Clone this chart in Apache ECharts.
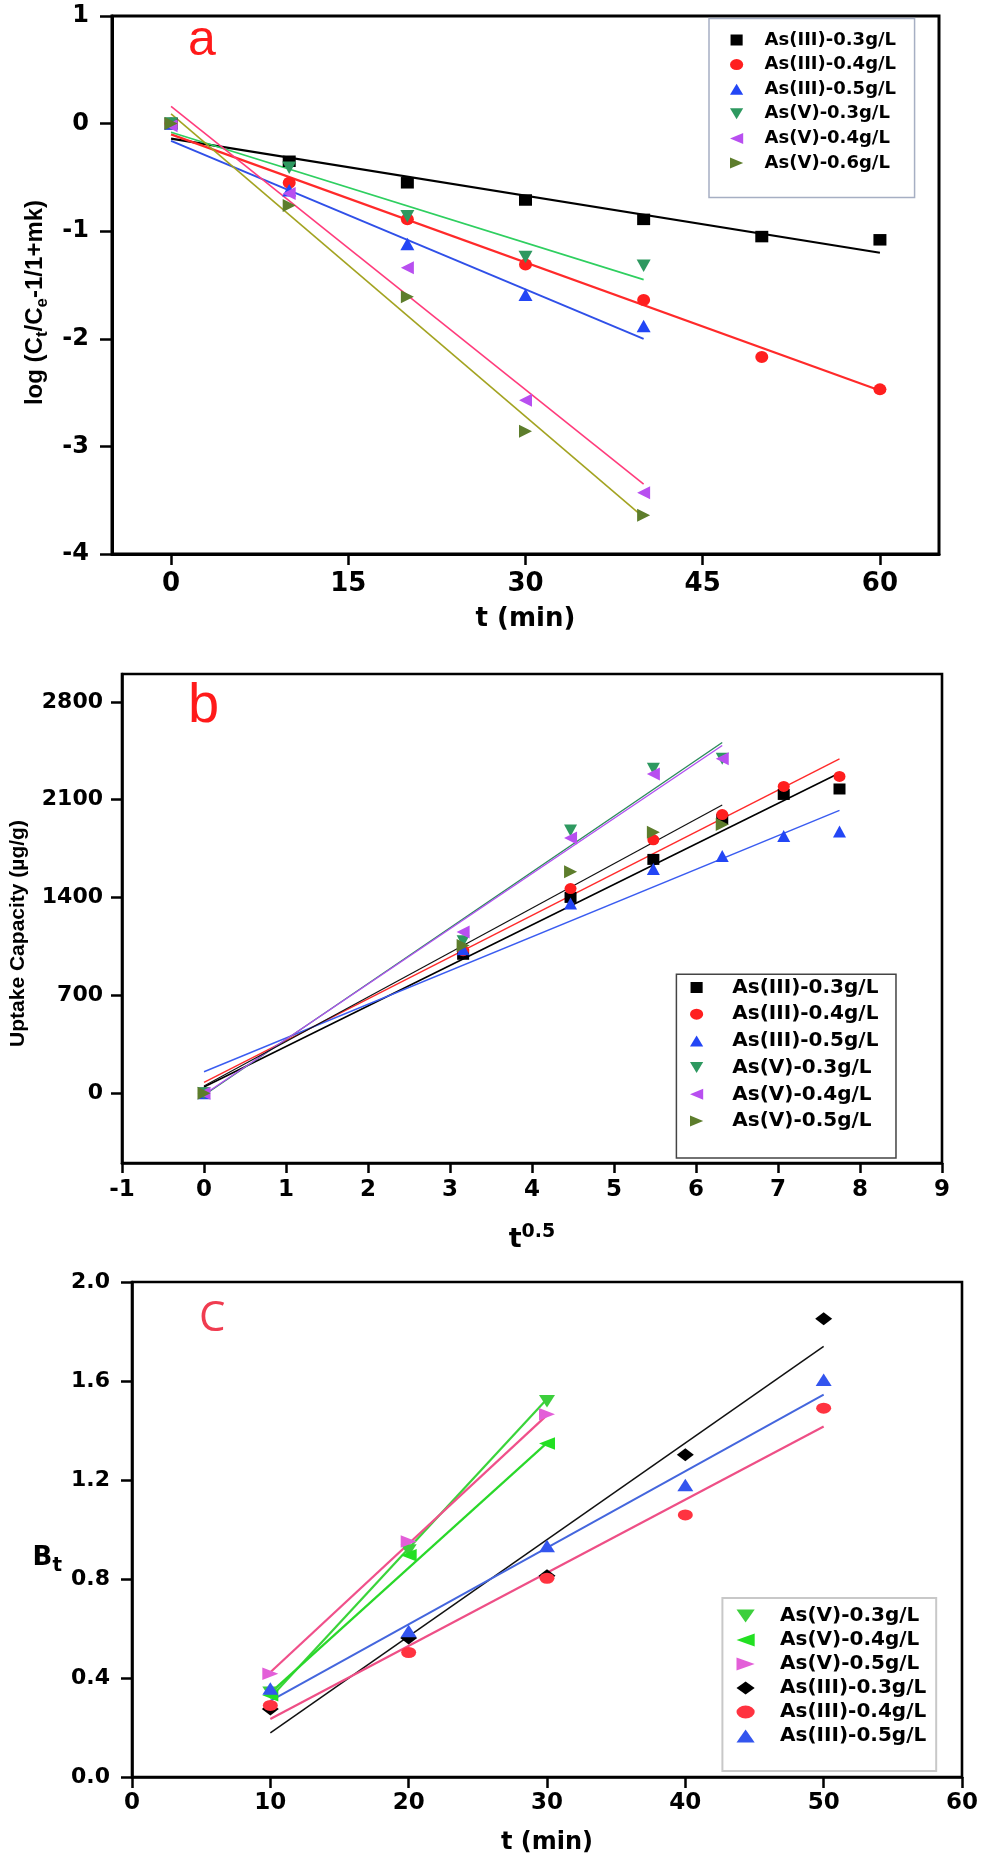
<!DOCTYPE html>
<html>
<head>
<meta charset="utf-8">
<script src="https://cdn.jsdelivr.net/npm/echarts@6/dist/echarts.min.js"></script>
<style>
html,body{margin:0;padding:0;background:#fff;}
#c{width:981px;height:1860px;}
</style>
</head>
<body>
<div id="c"></div>
<script>
// ---------- Panel a : log(Ct/Ce-1/1+mk) vs t ----------
const tA = [0, 10, 20, 30, 40, 50, 60];
const tA40 = [0, 10, 20, 30, 40];
const aIII03 = [0, -0.35, -0.55, -0.71, -0.89, -1.05, -1.08];
const aIII04 = [0, -0.55, -0.89, -1.31, -1.64, -2.17, -2.47];
const aIII05 = [0, -0.62, -1.12, -1.59, -1.88];
const aV03 = [0, -0.41, -0.86, -1.24, -1.32];
const aV04 = [-0.02, -0.65, -1.34, -2.57, -3.43];
const aV06 = [0, -0.76, -1.61, -2.86, -3.64];
// fitted lines (end points)
const aFitT60 = [0, 60];
const aFitT40 = [0, 40];
const aFitIII03 = [-0.14, -1.20];
const aFitIII04 = [-0.10, -2.48];
const aFitIII05 = [-0.16, -2.00];
const aFitV03 = [-0.08, -1.45];
const aFitV04 = [0.16, -3.35];
const aFitV06 = [0.09, -3.66];
const aTicksX = [0, 15, 30, 45, 60];

// ---------- Panel b : uptake capacity vs t^0.5 ----------
const xB = [0, 3.16, 4.47, 5.48, 6.32, 7.07, 7.75];
const xB40 = [0, 3.16, 4.47, 5.48, 6.32];
const bIII03 = [0, 994, 1401, 1673, 1960, 2138, 2177];
const bIII04 = [0, 1020, 1464, 1813, 1994, 2195, 2267];
const bIII05 = [0, 1030, 1357, 1604, 1698, 1841, 1872];
const bV03 = [0, 1088, 1879, 2322, 2394];
const bV04 = [0, 1154, 1826, 2284, 2394];
const bV05 = [0, 1057, 1584, 1867, 1923];
const bFitX77 = [0, 7.75];
const bFitX63 = [0, 6.32];
const bFitIII03 = [44, 2292];
const bFitIII04 = [77, 2393];
const bFitIII05 = [153, 2024];
const bFitV03 = [-15, 2510];
const bFitV04 = [-10, 2488];
const bFitV05 = [51, 2063];
const bTicksY = [0, 700, 1400, 2100, 2800];

// ---------- Panel c : Bt vs t ----------
const tC = [10, 20, 30, 40, 50];
const tC30 = [10, 20, 30];
const cV03 = [0.34, 0.915, 1.518];
const cV04 = [0.33, 0.896, 1.347];
const cV05 = [0.417, 0.952, 1.466];
const cIII03 = [0.275, 0.562, 0.813, 1.302, 1.852];
const cIII04 = [0.289, 0.503, 0.803, 1.059, 1.49];
const cIII05 = [0.358, 0.59, 0.933, 1.18, 1.605];
const cFitT50 = [10, 50];
const cFitT30 = [10, 30];
const cFitV03 = [0.32, 1.527];
const cFitV04 = [0.34, 1.35];
const cFitV05 = [0.423, 1.462];
const cFitIII03 = [0.178, 1.74];
const cFitIII04 = [0.234, 1.416];
const cFitIII05 = [0.308, 1.545];

// ---------- styling helpers ----------
const FN = 'DejaVu Sans';
const FR = 'Liberation Sans';
const SQ = 'path://M0,0H11V10H0Z';
const ELL = 'path://M0,5A6,5,0,1,1,12,5A6,5,0,1,1,0,5Z';
const UP = 'path://M6,0L12,10H0Z';
const DOWN = 'path://M0,0H12L6,10Z';
const LEFT = 'path://M0,5L12,0V10Z';
const RIGHT = 'path://M0,0L12,5L0,10Z';
const UPW = 'path://M7,0L14,10H0Z';
const DOWNW = 'path://M0,0H14L7,10Z';
const LEFTW = 'path://M0,5L14,0V10Z';
const RIGHTW = 'path://M0,0L14,5L0,10Z';
const DIAW = 'path://M7,0L14,5L7,10L0,5Z';
const ELLW = 'path://M0,5A7,5,0,1,1,14,5A7,5,0,1,1,0,5Z';

function pairs(xs, ys) { return xs.map((x, i) => [x, ys[i]]); }
function sc(name, xs, ys, symbol, color, size, gi) {
  return { type: 'scatter', name: name, xAxisIndex: gi, yAxisIndex: gi,
    data: pairs(xs, ys), symbol: symbol, symbolSize: size,
    itemStyle: { color: color, opacity: 1 }, z: 4, silent: true };
}
function ln(name, xs, ys, color, width, gi) {
  return { type: 'line', name: name, xAxisIndex: gi, yAxisIndex: gi,
    data: pairs(xs, ys), showSymbol: false, symbol: 'none',
    lineStyle: { color: color, width: width }, z: 3, silent: true, animation: false };
}
function li(name, icon, color) { return { name: name, icon: icon, itemStyle: { color: color } }; }
function lab(size, margin, fmt) {
  return { show: true, fontFamily: FN, fontWeight: 'bold', fontSize: size, color: '#000', margin: margin,
    formatter: fmt || ((v) => String(v)) };
}
const AXL = (w) => ({ show: true, onZero: false, lineStyle: { color: '#000', width: w } });
const TICK = (len, w) => ({ show: true, inside: false, length: len, lineStyle: { color: '#000', width: w } });

const C_TEAL = '#2e9960', C_PURP = '#b84ff0', C_OLIVE = '#5d7d2c', C_RED = '#ff1f1f', C_BLUE = '#2346f5';

const chart = echarts.init(document.getElementById('c'), null, { renderer: 'canvas', width: 981, height: 1860 });

const option = {
  backgroundColor: '#ffffff',
  animation: false,
  grid: [
    { left: 112, top: 16, width: 827, height: 538, show: true, borderColor: '#000', borderWidth: 3, backgroundColor: 'transparent' },
    { left: 119, top: 674, width: 823, height: 489, show: true, borderColor: '#000', borderWidth: 2.6, backgroundColor: 'transparent' },
    { left: 132, top: 1282, width: 831, height: 495, show: true, borderColor: '#000', borderWidth: 2.6, backgroundColor: 'transparent' }
  ],
  xAxis: [
    { type: 'value', gridIndex: 0, min: -5, max: 65,
      axisLine: AXL(3), axisTick: Object.assign(TICK(11, 2.5), { customValues: aTicksX }),
      axisLabel: Object.assign(lab(26, 17), { customValues: aTicksX }),
      splitLine: { show: false },
      name: 't (min)', nameLocation: 'middle', nameGap: 52,
      nameTextStyle: { fontFamily: FN, fontWeight: 'bold', fontSize: 26, color: '#000' } },
    { type: 'value', gridIndex: 1, min: -1, max: 9, interval: 1,
      axisLine: AXL(2.6), axisTick: TICK(10, 2.5), axisLabel: lab(23, 16),
      splitLine: { show: false },
      name: '{t|t}{p|0.5}', nameLocation: 'middle', nameGap: 60,
      nameTextStyle: { rich: {
        t: { fontFamily: FN, fontWeight: 'bold', fontSize: 27, lineHeight: 34, color: '#000', verticalAlign: 'middle' },
        p: { fontFamily: FN, fontWeight: 'bold', fontSize: 19, lineHeight: 19, color: '#000', verticalAlign: 'top' } } } },
    { type: 'value', gridIndex: 2, min: 0, max: 60, interval: 10,
      axisLine: AXL(2.6), axisTick: TICK(11, 2.5), axisLabel: lab(23, 15),
      splitLine: { show: false },
      name: 't (min)', nameLocation: 'middle', nameGap: 54,
      nameTextStyle: { fontFamily: FN, fontWeight: 'bold', fontSize: 24, color: '#000' } }
  ],
  yAxis: [
    { type: 'value', gridIndex: 0, min: -4, max: 1, interval: 1,
      axisLine: AXL(3), axisTick: TICK(12, 2.5), axisLabel: lab(24, 23),
      splitLine: { show: false },
      name: '{m|log (C}{s|t}{m|/C}{s|e}{m|-1/1+mk)}', nameLocation: 'middle', nameGap: 61, nameRotate: 90,
      nameTextStyle: { padding: [0, 35, 0, 0], rich: {
        m: { fontFamily: FR, fontWeight: 'bold', fontSize: 24, lineHeight: 32, color: '#000', verticalAlign: 'middle' },
        s: { fontFamily: FR, fontWeight: 'bold', fontSize: 17, lineHeight: 17, color: '#000', verticalAlign: 'bottom' } } } },
    { type: 'value', gridIndex: 1, min: -500, max: 3000,
      axisLine: AXL(2.6), axisTick: Object.assign(TICK(11, 2.5), { customValues: bTicksY }),
      axisLabel: Object.assign(lab(22, 19), { customValues: bTicksY }),
      splitLine: { show: false },
      name: 'Uptake Capacity (µg/g)', nameLocation: 'middle', nameGap: 93, nameRotate: 90,
      nameTextStyle: { fontFamily: FR, fontWeight: 'bold', fontSize: 21, color: '#000', padding: [0, 30, 0, 0] } },
    { type: 'value', gridIndex: 2, min: 0, max: 2, interval: 0.4,
      axisLine: AXL(2.6), axisTick: TICK(11, 2.5), axisLabel: lab(22, 22, (v) => v.toFixed(1)),
      splitLine: { show: false },
      name: '{b|B}{s|t}', nameLocation: 'middle', nameGap: 70, nameRotate: 0,
      nameTextStyle: { align: 'right', verticalAlign: 'middle', padding: [58, 0, 0, 0], rich: {
        b: { fontFamily: FN, fontWeight: 'bold', fontSize: 26, lineHeight: 34, color: '#000', verticalAlign: 'middle' },
        s: { fontFamily: FN, fontWeight: 'bold', fontSize: 20, lineHeight: 20, color: '#000', verticalAlign: 'bottom' } } } }
  ],
  legend: [
    { left: 709, top: 18.6, orient: 'vertical', selectedMode: false,
      itemWidth: 46, itemHeight: 11, itemGap: 6.6, symbolKeepAspect: true,
      padding: [12.4, 18.5, 25.5, 21], borderColor: '#a6afc3', borderWidth: 1.5, backgroundColor: '#fff',
      textStyle: { fontFamily: FN, fontWeight: 'bold', fontSize: 18, lineHeight: 18, color: '#000' },
      data: [li('As(III)-0.3g/L', SQ, '#000'), li('As(III)-0.4g/L', ELL, C_RED), li('As(III)-0.5g/L', UP, C_BLUE),
             li('As(V)-0.3g/L', DOWN, C_TEAL), li('As(V)-0.4g/L', LEFT, C_PURP), li('As(V)-0.6g/L', RIGHT, C_OLIVE)] },
    { left: 676.4, top: 974.3, orient: 'vertical', selectedMode: false,
      itemWidth: 61.4, itemHeight: 11, itemGap: 6.7, symbolKeepAspect: true,
      padding: [3.2, 17.6, 27, 13.6], borderColor: '#444', borderWidth: 1.5, backgroundColor: '#fff',
      textStyle: { fontFamily: FN, fontWeight: 'bold', fontSize: 20, lineHeight: 20, color: '#000' },
      data: [li('As(III)-0.3g/L', SQ, '#000'), li('As(III)-0.4g/L', ELL, C_RED), li('As(III)-0.5g/L', UP, C_BLUE),
             li('As(V)-0.3g/L', DOWN, C_TEAL), li('As(V)-0.4g/L', LEFT, C_PURP), li('As(V)-0.5g/L', RIGHT, C_OLIVE)] },
    { left: 722.4, top: 1598, orient: 'vertical', selectedMode: false,
      itemWidth: 59, itemHeight: 13, itemGap: 4, symbolKeepAspect: true,
      padding: [8, 10, 25, 14.1], borderColor: '#c8c8c8', borderWidth: 2, backgroundColor: '#fff',
      textStyle: { fontFamily: FN, fontWeight: 'bold', fontSize: 20, lineHeight: 20, color: '#000' },
      data: [li('As(V)-0.3g/L', DOWNW, '#3ccf3c'), li('As(V)-0.4g/L', LEFTW, '#22e022'), li('As(V)-0.5g/L', RIGHTW, '#e35fd8'),
             li('As(III)-0.3g/L', DIAW, '#000'), li('As(III)-0.4g/L', ELLW, '#ff3340'), li('As(III)-0.5g/L', UPW, '#3355ee')] }
  ],
  graphic: [
    { type: 'text', x: 188, y: 41.5, z: 10, style: { text: 'a', fontFamily: FR, fontSize: 50, fill: '#ff1a1a', align: 'left', verticalAlign: 'middle' } },
    { type: 'text', x: 188, y: 706.4, z: 10, style: { text: 'b', fontFamily: FR, fontSize: 56, fill: '#ff1a1a', align: 'left', verticalAlign: 'middle' } },
    { type: 'text', x: 199, y: 1318.7, z: 10, style: { text: 'C', fontFamily: 'Open Sans', fontSize: 42, fill: '#f03c50', align: 'left', verticalAlign: 'middle' } }
  ],
  series: [
    // panel a fits
    ln('fitA1', aFitT60, aFitIII03, '#000', 2.2, 0),
    ln('fitA2', aFitT60, aFitIII04, '#ff2a2a', 2.2, 0),
    ln('fitA3', aFitT40, aFitIII05, '#3050e8', 2, 0),
    ln('fitA4', aFitT40, aFitV03, '#2fcf60', 1.6, 0),
    ln('fitA5', aFitT40, aFitV04, '#ff3c7c', 1.6, 0),
    ln('fitA6', aFitT40, aFitV06, '#a3a321', 1.6, 0),
    // panel a points
    sc('As(III)-0.3g/L', tA, aIII03, SQ, '#000', [13, 11.5], 0),
    sc('As(III)-0.4g/L', tA, aIII04, ELL, C_RED, [13, 12], 0),
    sc('As(III)-0.5g/L', tA40, aIII05, UP, C_BLUE, [14, 12.5], 0),
    sc('As(V)-0.3g/L', tA40, aV03, DOWN, C_TEAL, [14, 12.5], 0),
    sc('As(V)-0.4g/L', tA40, aV04, LEFT, C_PURP, [13, 13], 0),
    sc('As(V)-0.6g/L', tA40, aV06, RIGHT, C_OLIVE, [13, 13], 0),
    // panel b fits
    ln('fitB1', bFitX77, bFitIII03, '#000', 1.6, 1),
    ln('fitB2', bFitX77, bFitIII04, '#ff2a2a', 1.4, 1),
    ln('fitB3', bFitX77, bFitIII05, '#3a5cf0', 1.4, 1),
    ln('fitB4', bFitX63, bFitV03, '#2a8a5a', 1.4, 1),
    ln('fitB5', bFitX63, bFitV04, '#b050f0', 1.4, 1),
    ln('fitB6', bFitX63, bFitV05, '#111', 1.2, 1),
    // panel b points
    sc('As(III)-0.3g/L', xB, bIII03, SQ, '#000', [12, 11], 1),
    sc('As(III)-0.4g/L', xB, bIII04, ELL, C_RED, [12, 11], 1),
    sc('As(III)-0.5g/L', xB, bIII05, UP, C_BLUE, [13, 12], 1),
    sc('As(V)-0.3g/L', xB40, bV03, DOWN, C_TEAL, [13, 12], 1),
    sc('As(V)-0.4g/L', xB40, bV04, LEFT, C_PURP, [13, 13], 1),
    sc('As(V)-0.5g/L', xB40, bV05, RIGHT, C_OLIVE, [13, 13], 1),
    // panel c fits
    ln('fitC1', cFitT30, cFitV03, '#3ad43a', 2.2, 2),
    ln('fitC2', cFitT30, cFitV04, '#2ad82a', 2.2, 2),
    ln('fitC3', cFitT30, cFitV05, '#f0508a', 2.2, 2),
    ln('fitC4', cFitT50, cFitIII03, '#111', 1.5, 2),
    ln('fitC5', cFitT50, cFitIII04, '#ee4f86', 2.2, 2),
    ln('fitC6', cFitT50, cFitIII05, '#4466dd', 2, 2),
    // panel c points
    sc('As(V)-0.3g/L', tC30, cV03, DOWNW, '#3ccf3c', [16, 12.5], 2),
    sc('As(V)-0.4g/L', tC30, cV04, LEFTW, '#22e022', [16, 12.5], 2),
    sc('As(V)-0.5g/L', tC30, cV05, RIGHTW, '#e35fd8', [16, 12.5], 2),
    sc('As(III)-0.3g/L', tC, cIII03, DIAW, '#000', [17, 13], 2),
    sc('As(III)-0.4g/L', tC, cIII04, ELLW, '#ff3340', [15, 11], 2),
    sc('As(III)-0.5g/L', tC, cIII05, UPW, '#3355ee', [16, 12.5], 2)
  ]
};
chart.setOption(option);
</script>
</body>
</html>
